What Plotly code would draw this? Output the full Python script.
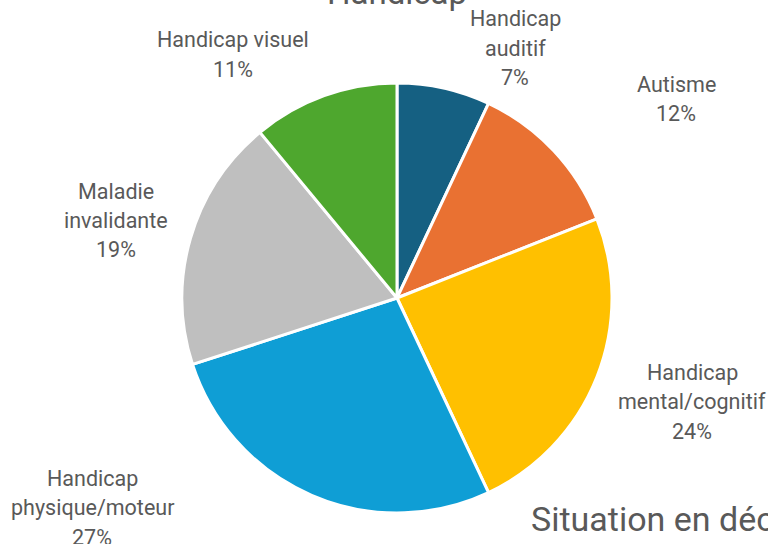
import plotly.graph_objects as go

categories = ["Handicap auditif", "Autisme", "Handicap mental/cognitif",
              "Handicap physique/moteur", "Maladie invalidante", "Handicap visuel"]
values = [7, 12, 24, 27, 19, 11]
label_lines = [["Handicap", "auditif"], ["Autisme"], ["Handicap", "mental/cognitif"],
               ["Handicap", "physique/moteur"], ["Maladie", "invalidante"], ["Handicap visuel"]]
colors = ["#156082", "#E97132", "#FFC000", "#0F9ED5", "#BFBFBF", "#4EA72E"]

# label anchor positions (pixels: x center, y center of first line)
label_pos = [(515, 19), (676, 84), (692, 372), (92, 478), (116, 191), (233, 40)]
line_gap = 29.5

W, H = 768, 544
cx, cy, r = 397, 298, 215

fig = go.Figure(go.Pie(
    labels=categories, values=values, sort=False, direction="clockwise", rotation=0,
    marker=dict(colors=colors, line=dict(color="white", width=3)),
    textinfo="none", hoverinfo="label+percent", showlegend=False,
    domain=dict(x=[(cx - r) / W, (cx + r) / W], y=[1 - (cy + r) / H, 1 - (cy - r) / H]),
))

FAM = "Roboto, Lato, sans-serif"
total = sum(values)
font = dict(family=FAM, size=21.5, color="#595959")
for lines, v, (x, y) in zip(label_lines, values, label_pos):
    all_lines = lines + [f"{round(100 * v / total)}%"]
    for i, ln in enumerate(all_lines):
        fig.add_annotation(text=ln, x=x / W, y=1 - (y + i * line_gap) / H,
                           xref="paper", yref="paper", xanchor="center", yanchor="middle",
                           showarrow=False, align="center", font=font)

fig.add_annotation(text="Handicap", x=cx / W, y=1 + 7 / H, xref="paper", yref="paper",
                   xanchor="center", yanchor="middle", showarrow=False,
                   font=dict(family=FAM, size=33, color="#595959"))
fig.add_annotation(text="Situation en décembre", x=529 / W, y=1 - 519 / H, xref="paper", yref="paper",
                   xanchor="left", yanchor="middle", showarrow=False,
                   font=dict(family=FAM, size=34, color="#595959"))

fig.update_layout(width=W, height=H, margin=dict(l=0, r=0, t=0, b=0),
                  paper_bgcolor="white", plot_bgcolor="white")
fig.write_html("out.html", config={"displayModeBar": False},
               post_script="document.body.style.margin='0';document.body.style.overflow='hidden';")
